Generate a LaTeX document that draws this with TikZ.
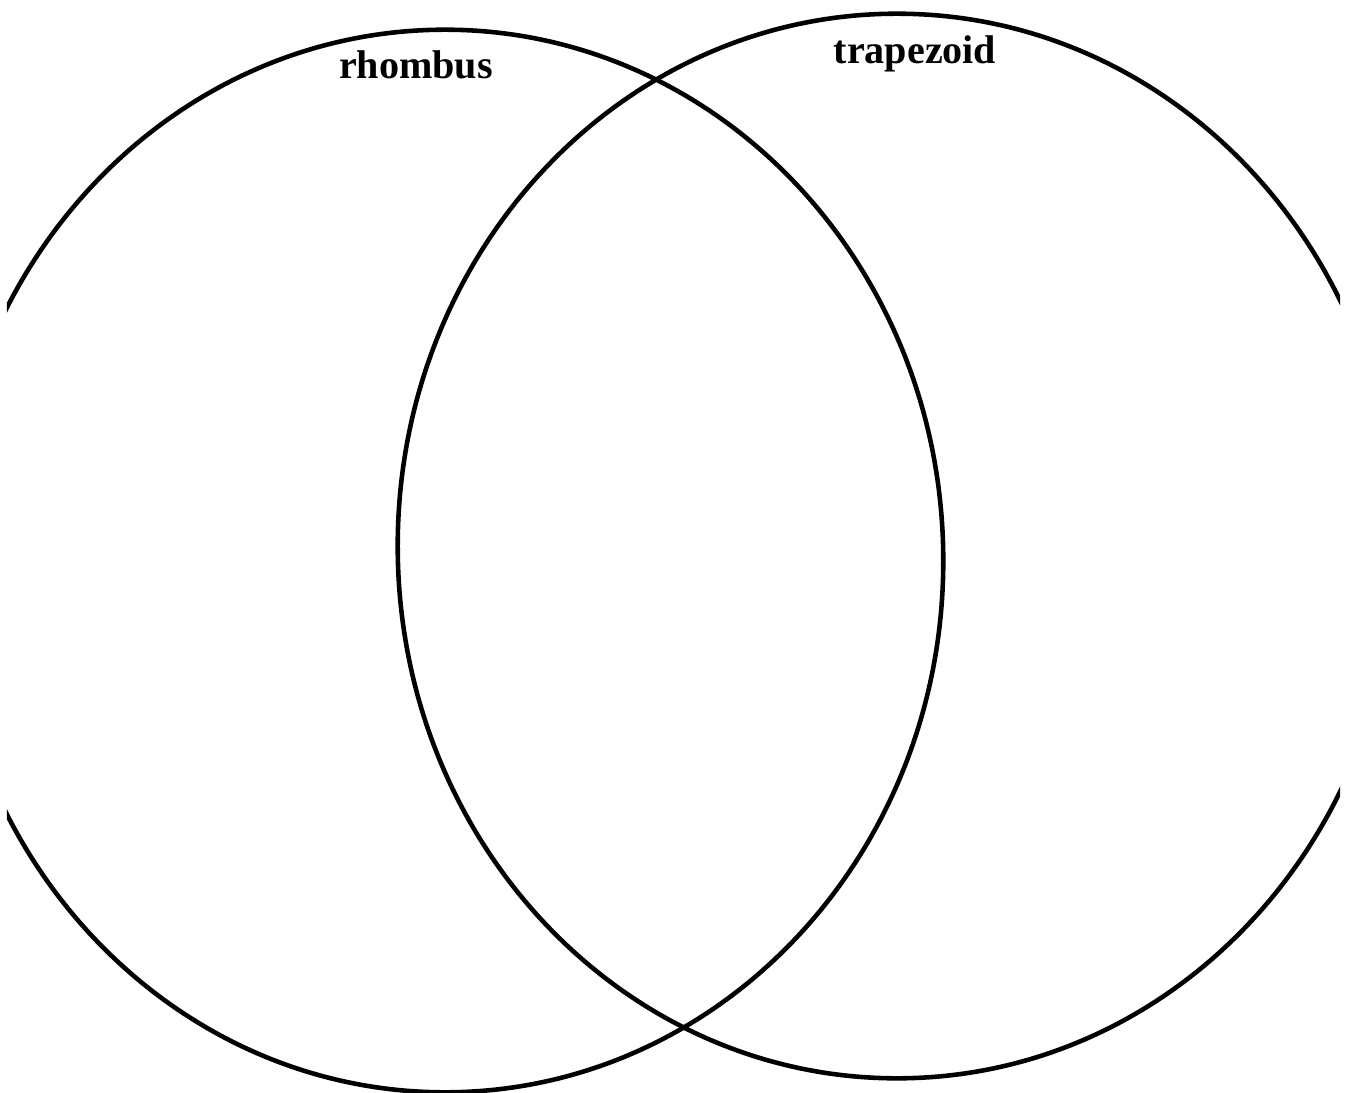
\documentclass[tikz,border=0pt]{standalone}
\usepackage{fontspec}
\setmainfont{Liberation Serif}
\usetikzlibrary{positioning}

\begin{document}
\begin{tikzpicture}[
    x=0.01cm, y=-0.01cm,
    setline/.style={draw, line width=1.3pt},
    setlabel/.style={anchor=base, inner sep=0pt, font=\fontsize{11.4}{13}\selectfont\bfseries},
]

\useasboundingbox (0,0) rectangle (1350,1093);

% Sets (cut off at the page sides)
\begin{scope}
\clip (7,0) rectangle (1340,1093);
\draw[setline] (445,561) ellipse [x radius=4.98cm, y radius=5.31cm];
\draw[setline] (897,546) ellipse [x radius=4.99cm, y radius=5.32cm];
\end{scope}

% Set names
\node[setlabel] (rhombus) at (416,78) {rhombus};
\node[setlabel] (trapezoid) at (915,63) {trapezoid};

\end{tikzpicture}
\end{document}
